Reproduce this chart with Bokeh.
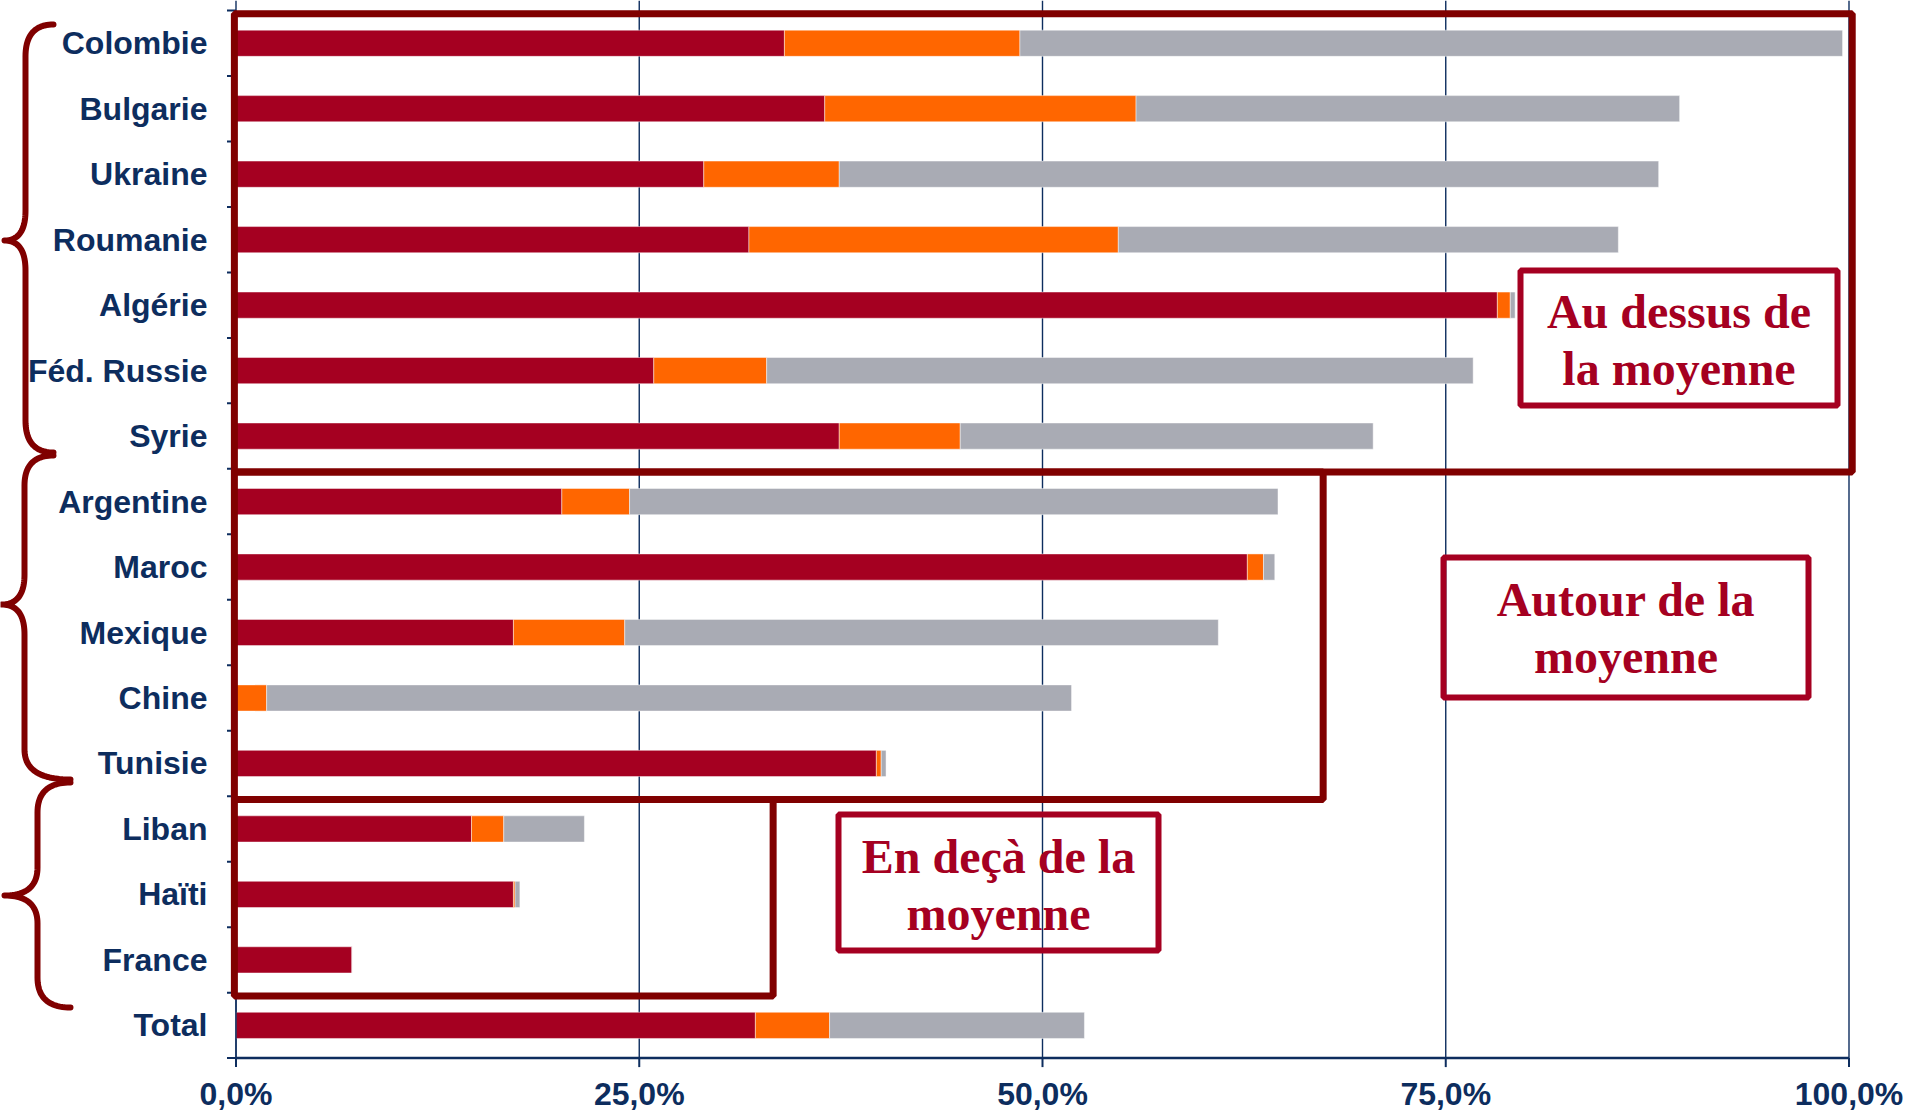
import numpy as np
from bokeh.plotting import figure
from bokeh.models import Range1d, ColumnDataSource
from bokeh.core.properties import value
from bokeh.embed import file_html
from bokeh.resources import INLINE

# ---------------- data ----------------
categories = ["Colombie", "Bulgarie", "Ukraine", "Roumanie", "Algérie", "Féd. Russie",
              "Syrie", "Argentine", "Maroc", "Mexique", "Chine", "Tunisie",
              "Liban", "Haïti", "France", "Total"]
part_red = [34.0, 36.5, 29.0, 31.8, 78.2, 25.9, 37.4, 20.2, 62.7, 17.2, 0.0, 39.7, 14.6, 17.2, 7.2, 32.2]
part_orange = [14.6, 19.3, 8.4, 22.9, 0.8, 7.0, 7.5, 4.2, 1.0, 6.9, 1.9, 0.3, 2.0, 0.1, 0.0, 4.6]
part_gray = [51.0, 33.7, 50.8, 31.0, 0.3, 43.8, 25.6, 40.2, 0.7, 36.8, 49.9, 0.3, 5.0, 0.3, 0.0, 15.8]

tick_values = [0, 25, 50, 75, 100]
tick_labels = ["0,0%", "25,0%", "50,0%", "75,0%", "100,0%"]

# groups (index of first / last category) and frame right extent (%)
group_first = [0, 7, 12]
group_last = [6, 11, 14]
group_right = [100.2, 67.4, 33.3]
group_labels = [["Au dessus de", "la moyenne"], ["Autour de la", "moyenne"], ["En deçà de la", "moyenne"]]

# ---------------- styling ----------------
RED = "#A50021"
ORANGE = "#FF6600"
GRAY = "#A9ABB4"
FRAME = "#800000"
NAVY = "#0D2D5E"

W, H = 1909, 1112
PX0 = 0                      # page offset of canvas
X0_PAGE, X100_PAGE = 235.5, 1848.5
PXPCT = (X100_PAGE - X0_PAGE) / 100.0
Y_TOP_PAGE, Y_BOT_PAGE = 10.0, 1057.6
N = len(categories)
BAND = (Y_BOT_PAGE - Y_TOP_PAGE) / N

x_start = (PX0 - X0_PAGE) / PXPCT
x_end = (PX0 + W - X0_PAGE) / PXPCT
y_start = -(PX0 + H - Y_BOT_PAGE) / BAND
y_end = N + (Y_TOP_PAGE - PX0) / BAND

p = figure(width=W, height=H, output_backend="svg", toolbar_location=None,
           x_axis_location=None, y_axis_location=None,
           x_range=Range1d(x_start, x_end), y_range=Range1d(y_start, y_end),
           min_border=0, background_fill_color="white", border_fill_color="white")
p.outline_line_color = None
p.xgrid.visible = False
p.ygrid.visible = False
p.extra_x_ranges = {"px": Range1d(PX0, PX0 + W)}
p.extra_y_ranges = {"px": Range1d(PX0 + H, PX0)}

ypos = [N - i - 0.5 for i in range(N)]

# grid lines
p.segment(x0=tick_values, x1=tick_values, y0=[0] * len(tick_values), y1=[y_end] * len(tick_values),
          line_color=NAVY, line_width=1.4)

# bars
src = ColumnDataSource(dict(y=ypos, cat=categories, red=part_red, orange=part_orange, gray=part_gray))
p.hbar_stack(["red", "orange", "gray"], y="y", height=0.4, color=[RED, ORANGE, GRAY],
             line_color="white", line_alpha=0.45, line_width=1, source=src)

# axes drawn by hand (frame covers the whole canvas)
TICKX = 9 / PXPCT
TICKY = 9 / BAND
p.segment(x0=[0], x1=[100], y0=[0], y1=[0], line_color=NAVY, line_width=2.5)
p.segment(x0=[0], x1=[0], y0=[0], y1=[N], line_color=NAVY, line_width=1.4)
bnds = list(range(N + 1))
p.segment(x0=[-TICKX] * len(bnds), x1=[0] * len(bnds), y0=bnds, y1=bnds, line_color=NAVY, line_width=2)
p.segment(x0=tick_values, x1=tick_values, y0=[0] * len(tick_values), y1=[-TICKY] * len(tick_values),
          line_color=NAVY, line_width=2)
p.text(x=tick_values, y=[0] * len(tick_values), text=tick_labels, y_offset=36,
       text_align="center", text_baseline="alphabetic", text_color=NAVY,
       text_font=value("Liberation Sans"), text_font_style="bold", text_font_size="32px")
p.text(x=[0] * N, y=ypos, text=categories, x_offset=-28.5,
       text_align="right", text_baseline="middle", text_color=NAVY,
       text_font=value("Liberation Sans"), text_font_style="bold", text_font_size="32px")

# group frames
OFF = 0.05
p.quad(left=[-0.1] * 3, right=group_right,
       top=[N - f - OFF for f in group_first], bottom=[N - l - 1 - OFF for l in group_last],
       fill_color=None, line_color=FRAME, line_width=7)

# label boxes (page px)
box_l = [1520, 1443, 838]
box_r = [1837, 1808, 1158]
box_t = [270, 557, 814]
box_b = [405, 697, 950]
line1_base = [311, 599, 856]
line2_base = [368, 656, 913]
p.quad(left=box_l, right=box_r, top=box_t, bottom=box_b, x_range_name="px", y_range_name="px",
       fill_color=None, line_color=RED, line_width=6)
for i in range(3):
    cx = (box_l[i] + box_r[i]) / 2
    p.text(x=[cx, cx], y=[line1_base[i], line2_base[i]], text=group_labels[i],
           x_range_name="px", y_range_name="px", text_align="center", text_baseline="alphabetic",
           text_color=RED, text_font=value("Liberation Serif"), text_font_style="bold",
           text_font_size="48px")

# braces (page px)
def qbez(p0, c, p1, n=24):
    t = np.linspace(0, 1, n)
    x = (1 - t) ** 2 * p0[0] + 2 * (1 - t) * t * c[0] + t ** 2 * p1[0]
    y = (1 - t) ** 2 * p0[1] + 2 * (1 - t) * t * c[1] + t ** 2 * p1[1]
    return list(x), list(y)

def brace(xe_top, xe_bot, xm, xt, y_top, y_tip, y_bot, r_end, r_tip):
    xs, ys = [], []
    for a, b, c in [((xe_top, y_top), (xm, y_top), (xm, y_top + r_end)),
                    ((xm, y_tip - r_tip), (xm, y_tip), (xt, y_tip)),
                    ((xt, y_tip), (xm, y_tip), (xm, y_tip + r_tip)),
                    ((xm, y_bot - r_end), (xm, y_bot), (xe_bot, y_bot))]:
        bx, by = qbez(a, b, c)
        xs += bx
        ys += by
    return xs, ys

braces = [(53, 53, 25, 4, 24, 240, 452, 32, 30),
          (53, 70, 24, 1, 455, 604, 779, 30, 30),
          (70, 70, 37, 4, 782, 895, 1007, 30, 28)]
bx, by = [], []
for b in braces:
    xs, ys = brace(*b)
    bx.append(xs)
    by.append(ys)
p.multi_line(xs=bx, ys=by, x_range_name="px", y_range_name="px",
             line_color=FRAME, line_width=6, line_cap="round", line_join="round")

open("out.html", "w").write(file_html(p, INLINE))
